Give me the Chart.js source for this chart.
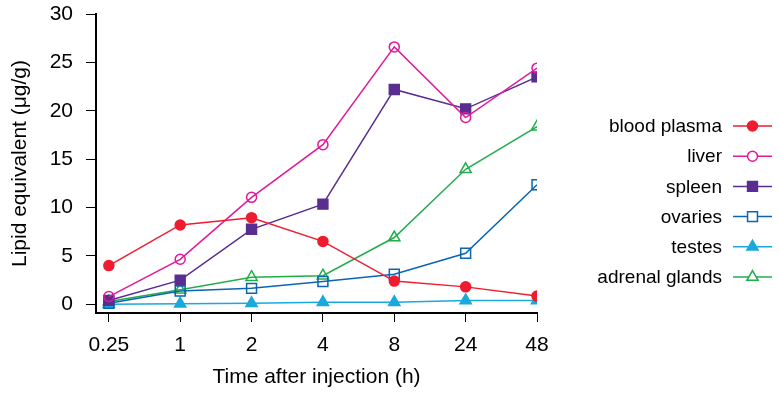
<!DOCTYPE html>
<html>
<head>
<meta charset="utf-8">
<script src="https://cdn.jsdelivr.net/npm/chart.js@4.4.1/dist/chart.umd.min.js"></script>
<style>
html,body{margin:0;padding:0;background:#fff;}
canvas{display:block;}
</style>
</head>
<body>
<canvas id="c" width="780" height="396"></canvas>
<script>
const categories = ["0.25", "1", "2", "4", "8", "24", "48"];
const yTicks = [0, 5, 10, 15, 20, 25, 30];
const bloodPlasma = [4.0, 8.2, 8.95, 6.5, 2.4, 1.8, 0.85];
const liver = [0.8, 4.65, 11.05, 16.5, 26.6, 19.3, 24.4];
const spleen = [0.4, 2.5, 7.75, 10.35, 22.2, 20.2, 23.5];
const ovaries = [0.1, 1.37, 1.65, 2.35, 3.1, 5.27, 12.36];
const testes = [0.0, 0.05, 0.1, 0.2, 0.2, 0.4, 0.4];
const adrenalGlands = [0.3, 1.5, 2.8, 2.95, 6.9, 13.95, 18.35];
const seriesNames = ["blood plasma", "liver", "spleen", "ovaries", "testes", "adrenal glands"];

const FONT = "'Liberation Sans', Arial, Helvetica, sans-serif";
const toPts = arr => arr.map((v, i) => ({x: i, y: v}));

const styles = [
  {color: '#ee1c2e', pointStyle: 'circle', filled: true, r: 5},
  {color: '#e2189a', pointStyle: 'circle', filled: false, r: 5},
  {color: '#5a2d91', pointStyle: 'rect', filled: true, r: 7},
  {color: '#0b64b4', pointStyle: 'rect', filled: false, r: 7},
  {color: '#1aa9dc', pointStyle: 'triangle', filled: true, r: 6.5},
  {color: '#22ad4c', pointStyle: 'triangle', filled: false, r: 6.5}
];
const seriesData = [bloodPlasma, liver, spleen, ovaries, testes, adrenalGlands];

const datasets = seriesData.map((d, k) => {
  const s = styles[k];
  return {
    label: seriesNames[k],
    data: toPts(d),
    borderColor: s.color,
    backgroundColor: s.filled ? s.color : '#ffffff',
    pointBackgroundColor: s.filled ? s.color : 'rgba(255,255,255,0)',
    pointBorderColor: s.color,
    pointBorderWidth: 1.5,
    pointStyle: s.pointStyle,
    pointRadius: s.r,
    pointHoverRadius: s.r,
    borderWidth: 1.5,
    tension: 0,
    fill: false
  };
});

const legendPlugin = {
  id: 'rightLegend',
  afterDraw(chart) {
    const ctx = chart.ctx;
    ctx.save();
    const x0 = 733, x1 = 772, mx = 752.5, tx = 722;
    const y0 = 126, dy = 30.2;
    ctx.font = '19px ' + FONT;
    ctx.textAlign = 'right';
    ctx.textBaseline = 'middle';
    seriesNames.forEach((name, k) => {
      const y = y0 + k * dy;
      const s = styles[k];
      ctx.fillStyle = '#000';
      ctx.fillText(name, tx, y + 1);
      ctx.strokeStyle = s.color;
      ctx.lineWidth = 1.5;
      ctx.beginPath();
      ctx.moveTo(x0, y);
      ctx.lineTo(x1, y);
      ctx.stroke();
      ctx.fillStyle = s.filled ? s.color : '#ffffff';
      ctx.strokeStyle = s.color;
      ctx.lineWidth = 1.5;
      Chart.helpers.drawPoint(ctx, {pointStyle: s.pointStyle, radius: s.r, rotation: 0, borderWidth: 1.5}, mx, y);
    });
    ctx.restore();
  }
};

new Chart(document.getElementById('c'), {
  type: 'line',
  data: {datasets},
  options: {
    responsive: false,
    animation: false,
    devicePixelRatio: 1,
    layout: {padding: {left: 0, top: 14, right: 243, bottom: 0}},
    plugins: {legend: {display: false}, tooltip: {enabled: false}},
    scales: {
      x: {
        type: 'linear',
        min: -0.18,
        max: 6,
        afterBuildTicks: s => { s.ticks = categories.map((_, i) => ({value: i})); },
        afterFit: s => { s.height = 83; s.paddingLeft = 0; s.paddingRight = 0; },
        ticks: {
          autoSkip: false,
          color: '#000',
          font: {family: FONT, size: 21},
          padding: 11,
          maxRotation: 0,
          callback: v => categories[v]
        },
        grid: {display: true, drawOnChartArea: false, drawTicks: true, tickLength: 9, color: '#000', lineWidth: 1},
        border: {display: true, color: '#000', width: 2},
        title: {display: true, text: 'Time after injection (h)', color: '#000', font: {family: FONT, size: 21}, padding: {top: 0, bottom: 6}}
      },
      y: {
        type: 'linear',
        min: -0.9,
        max: 30,
        afterBuildTicks: s => { s.ticks = yTicks.map(v => ({value: v})); },
        afterFit: s => { s.width = 96; s.paddingTop = 0; s.paddingBottom = 0; },
        ticks: {
          color: '#000',
          font: {family: FONT, size: 21},
          padding: 13
        },
        grid: {display: true, drawOnChartArea: false, drawTicks: true, tickLength: 10, color: '#000', lineWidth: 1},
        border: {display: true, color: '#000', width: 2},
        title: {display: true, text: 'Lipid equivalent (μg/g)', color: '#000', font: {family: FONT, size: 21}, padding: {top: 8, bottom: 0}}
      }
    }
  },
  plugins: [legendPlugin]
});
</script>
</body>
</html>
